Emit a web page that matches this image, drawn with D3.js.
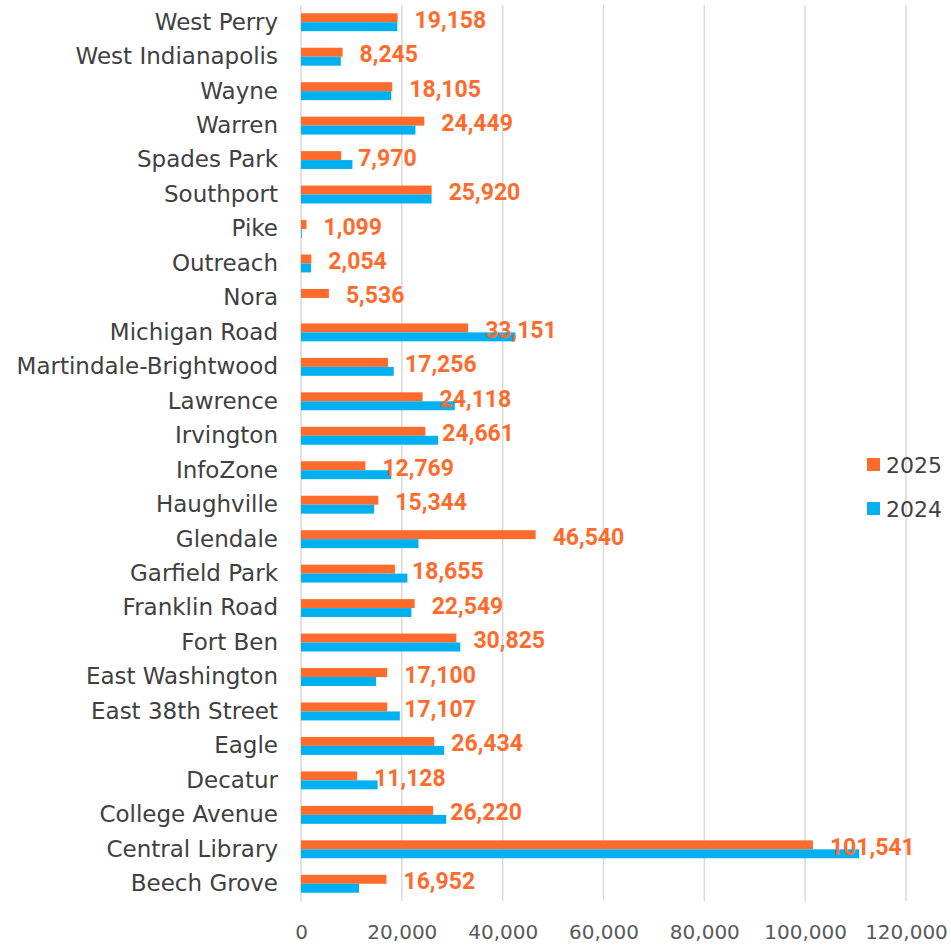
<!DOCTYPE html>
<html>
<head>
<meta charset="utf-8">
<script src="https://cdn.jsdelivr.net/npm/d3@7"></script>
<style>
  body { margin: 0; background: #fff; }
  svg { display: block; font-family: "Century Gothic", "DejaVu Sans", sans-serif; }
</style>
</head>
<body>
<div id="vis"></div>
<script>
const branches = ["West Perry", "West Indianapolis", "Wayne", "Warren", "Spades Park", "Southport", "Pike",
  "Outreach", "Nora", "Michigan Road", "Martindale-Brightwood", "Lawrence", "Irvington", "InfoZone",
  "Haughville", "Glendale", "Garfield Park", "Franklin Road", "Fort Ben", "East Washington",
  "East 38th Street", "Eagle", "Decatur", "College Avenue", "Central Library", "Beech Grove"];
const values2025 = [19158, 8245, 18105, 24449, 7970, 25920, 1099, 2054, 5536, 33151, 17256, 24118, 24661,
  12769, 15344, 46540, 18655, 22549, 30825, 17100, 17107, 26434, 11128, 26220, 101541, 16952];
const values2024 = [19100, 7900, 17900, 22700, 10200, 25900, 150, 2000, 0, 42500, 18400, 30500, 27200,
  17900, 14500, 23300, 21100, 21900, 31600, 14900, 19600, 28400, 15200, 28800, 110700, 11500];
const series = ["2025", "2024"];
const xTicks = [0, 20000, 40000, 60000, 80000, 100000, 120000];

const width = 951, height = 945;
const margin = { top: 5, right: 45, bottom: 44, left: 301 };
const colors = { "2025": "#FF6B2C", "2024": "#00B0F0" };
const font = "\"Century Gothic\", \"DejaVu Sans\", sans-serif";

const svg = d3.select("#vis").append("svg")
  .attr("width", width).attr("height", height);

const x = d3.scaleLinear([0, 120000], [margin.left, 906]);
const y = d3.scaleBand(branches, [margin.top, height - margin.bottom]).paddingInner(0.48).paddingOuter(0.24);
const ySub = d3.scaleBand(series, [0, y.bandwidth()]);

// gridlines
svg.append("g")
  .selectAll("line")
  .data(xTicks)
  .join("line")
  .attr("x1", d => x(d)).attr("x2", d => x(d))
  .attr("y1", margin.top).attr("y2", height - margin.bottom)
  .attr("stroke", "#D9D9D9").attr("stroke-width", 1.5);

// bars
const rows = branches.map((name, i) => ({ name, v2025: values2025[i], v2024: values2024[i] }));
const group = svg.append("g")
  .selectAll("g")
  .data(rows)
  .join("g")
  .attr("transform", d => `translate(0,${y(d.name)})`);

group.selectAll("rect")
  .data(d => series.map(s => ({ s, value: s === "2025" ? d.v2025 : d.v2024 })))
  .join("rect")
  .attr("x", x(0))
  .attr("y", d => ySub(d.s))
  .attr("width", d => x(d.value) - x(0))
  .attr("height", ySub.bandwidth())
  .attr("fill", d => colors[d.s]);

// data labels for 2025
group.append("text")
  .attr("x", d => x(d.v2025) + 17)
  .attr("y", ySub("2025") + ySub.bandwidth() / 2 + 2)
  .attr("dy", "0.35em")
  .attr("fill", colors["2025"])
  .attr("font-family", "Roboto, sans-serif")
  .attr("font-weight", "bold")
  .attr("font-size", 23)
  .text(d => d3.format(",")(d.v2025));

// category axis
svg.append("g")
  .attr("transform", `translate(${margin.left},0)`)
  .call(d3.axisLeft(y).tickSize(0).tickPadding(23))
  .call(g => g.select(".domain").remove())
  .call(g => g.selectAll("text")
    .attr("font-family", font)
    .attr("font-size", 23).attr("fill", "#404040"));

// value axis
svg.append("g")
  .attr("transform", `translate(0,${height - margin.bottom})`)
  .call(d3.axisBottom(x).tickValues(xTicks).tickFormat(d3.format(",")).tickSize(0).tickPadding(24))
  .call(g => g.select(".domain").remove())
  .call(g => g.selectAll("text")
    .attr("font-family", font)
    .attr("font-size", 20).attr("fill", "#595959"));

// legend
const legend = svg.append("g")
  .selectAll("g")
  .data(series)
  .join("g")
  .attr("transform", (d, i) => `translate(867,${458 + i * 44})`);
legend.append("rect")
  .attr("width", 13).attr("height", 13)
  .attr("fill", d => colors[d]);
legend.append("text")
  .attr("x", 19).attr("y", 7).attr("dy", "0.35em")
  .attr("font-size", 22).attr("fill", "#404040")
  .text(d => d);
</script>
</body>
</html>
